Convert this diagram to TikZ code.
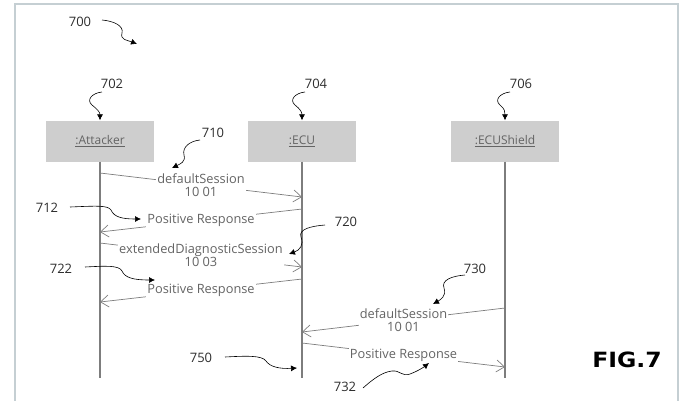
\documentclass[tikz,border=0pt]{standalone}
\usepackage{fontspec}
\setmainfont{Open Sans}
\newfontfamily\figfont{DejaVu Sans}
\usetikzlibrary{arrows.meta}
\definecolor{framec}{RGB}{197,207,211}
\definecolor{boxc}{RGB}{206,206,206}
\definecolor{txtc}{RGB}{100,100,100}
\definecolor{numc}{RGB}{45,45,45}
\definecolor{linec}{RGB}{125,125,125}
\begin{document}
\begin{tikzpicture}[x=1pt,y=-1pt,
  actor/.style={draw=none,fill=boxc,minimum width=108pt,minimum height=41pt,inner sep=0pt,font=\fontsize{12}{14}\selectfont,text=txtc},
  life/.style={draw=linec,line width=1.6pt},
  msg/.style={draw=linec,line width=0.7pt,-{Straight Barb[length=8pt,width=12pt,line width=0.7pt]}},
  mlabel/.style={fill=white,inner sep=1pt,align=center,font=\fontsize{12.8}{13}\selectfont,text=txtc},
  num/.style={font=\fontsize{13}{15}\selectfont,text=numc,inner sep=1pt},
  squig/.style={draw=black,line width=0.6pt,-{Latex[length=6pt,width=6pt]}}
]
\useasboundingbox (0,0) rectangle (681,400);
\draw[framec,line width=2pt] (15,405) -- (15,3.5) -- (678,3.5) -- (678,405);

% actors
\node[actor] (atk) at (100,141) {\underline{:Attacker}};
\node[actor] (ecu) at (302,141) {\underline{:ECU}};
\node[actor] (shd) at (505,141) {\underline{:ECUShield}};

% lifelines
\coordinate (atkE) at (100,378);
\coordinate (ecuE) at (302,378);
\coordinate (shdE) at (505,378);
\draw[life] (atk.south) -- (atkE);
\draw[life] (ecu.south) -- (ecuE);
\draw[life] (shd.south) -- (shdE);

% message end points
\coordinate (m1s) at (100,173); \coordinate (m1e) at (302,197);
\coordinate (m2s) at (302,209); \coordinate (m2e) at (100,232);
\coordinate (m3s) at (100,243); \coordinate (m3e) at (302,267);
\coordinate (m4s) at (302,279); \coordinate (m4e) at (100,302);
\coordinate (m5s) at (505,308); \coordinate (m5e) at (302,332);
\coordinate (m6s) at (302,343); \coordinate (m6e) at (505,367);

\draw[msg] (m1s) -- node[mlabel] (t1) {defaultSession\\10 01} (m1e);
\draw[msg] (m2s) -- node[mlabel] (t2) {Positive Response} (m2e);
\draw[msg] (m3s) -- node[mlabel] (t3) {extendedDiagnosticSession\\10 03} (m3e);
\draw[msg] (m4s) -- node[mlabel] (t4) {Positive Response} (m4e);
\draw[msg] (m5s) -- node[mlabel] (t5) {defaultSession\\10 01} (m5e);
\draw[msg] (m6s) -- node[mlabel] (t6) {Positive Response} (m6e);

% reference numerals
\node[num] (l700) at (80,22) {700};
\node[num] (l702) at (112,84) {702};
\node[num] (l704) at (316,84) {704};
\node[num] (l706) at (521,84) {706};
\node[num] (l710) at (213,133) {710};
\node[num] (l712) at (47,208) {712};
\node[num] (l720) at (346,222) {720};
\node[num] (l722) at (61,269) {722};
\node[num] (l730) at (475,269) {730};
\node[num] (l750) at (201,358) {750};
\node[num] (l732) at (345,387) {732};

% squiggle start / end points
\coordinate (s700) at (102,20);  \coordinate (e700) at (137,44);
\coordinate (s702) at (102,92);
\coordinate (s704) at (305,92);
\coordinate (s706) at (510,92);
\coordinate (s710) at (200,140); \coordinate (e710) at (172,168);
\coordinate (s712) at (70,207);  \coordinate (e712) at (141,219);
\coordinate (s720) at (325,225); \coordinate (e720) at (289,254);
\coordinate (s722) at (85,267);  \coordinate (e722) at (155,280);
\coordinate (s730) at (465,275); \coordinate (e730) at (433,304);
\coordinate (s750) at (225,357); \coordinate (e750) at (297,368);
\coordinate (s732) at (363,388); \coordinate (e732) at (429,363);

\draw[squig] (s700) .. controls (114,21) and (124,26) .. (122,33) .. controls (120,40) and (127,40) .. (e700);
\draw[squig] (s702) .. controls (92,93) and (86,100) .. (92,105) .. controls (97,109) and (100,112) .. (atk.north);
\draw[squig] (s704) .. controls (295,93) and (289,100) .. (295,105) .. controls (300,109) and (302,112) .. (ecu.north);
\draw[squig] (s706) .. controls (500,93) and (494,100) .. (500,105) .. controls (505,109) and (505,112) .. (shd.north);
\draw[squig] (s710) .. controls (190,141) and (182,147) .. (184,155) .. controls (186,162) and (180,164) .. (e710);
\draw[squig] (s712) .. controls (95,206) and (108,205) .. (111,210) .. controls (114,217) and (122,219) .. (e712);
\draw[squig] (s720) .. controls (312,226) and (298,229) .. (301,237) .. controls (304,245) and (300,250) .. (e720);
\draw[squig] (s722) .. controls (105,266) and (119,265) .. (122,271) .. controls (125,278) and (134,280) .. (e722);
\draw[squig] (s730) .. controls (452,276) and (441,280) .. (444,288) .. controls (447,296) and (440,300) .. (e730);
\draw[squig] (s750) .. controls (245,356) and (262,355) .. (266,361) .. controls (270,367) and (280,369) .. (e750);
\draw[squig] (s732) .. controls (372,380) and (382,372) .. (392,371) .. controls (400,370) and (402,377) .. (410,374) .. controls (418,371) and (424,367) .. (e732);

\node[font=\figfont\bfseries\fontsize{21}{24}\selectfont,xscale=1.12,inner sep=0pt] (fig) at (627,360) {FIG.7};
\end{tikzpicture}
\end{document}
